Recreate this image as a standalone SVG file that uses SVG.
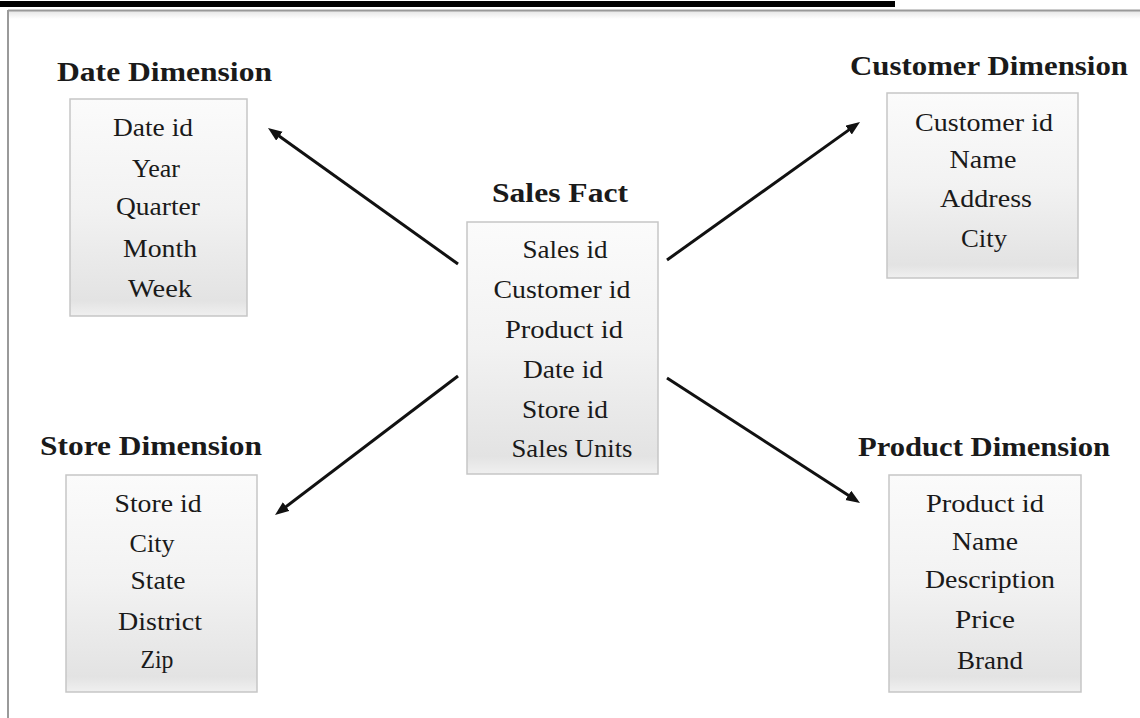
<svg xmlns="http://www.w3.org/2000/svg" width="1140" height="718" viewBox="0 0 1140 718">
<defs>
<linearGradient id="boxfill" x1="0" y1="0" x2="0" y2="1">
<stop offset="0" stop-color="#fbfbfb"/>
<stop offset="0.5" stop-color="#f2f2f2"/>
<stop offset="0.93" stop-color="#e3e3e3"/>
<stop offset="1" stop-color="#f0f0f0"/>
</linearGradient>
<linearGradient id="topshade" x1="0" y1="0" x2="0" y2="1">
<stop offset="0" stop-color="#e6e6e6"/>
<stop offset="1" stop-color="#ffffff"/>
</linearGradient>
<marker id="arrow" markerUnits="userSpaceOnUse" markerWidth="16" markerHeight="13" refX="6" refY="5.5" orient="auto">
<path d="M0,0 L14,5.5 L0,11 z" fill="#111"/>
</marker>
<style>
.box{fill:url(#boxfill);stroke:#c6c6c6;stroke-width:1.5}
.title{font-family:"Liberation Serif","Times New Roman",serif;font-weight:bold;font-size:28px;fill:#1a1a1a;text-anchor:middle}
.item{font-family:"Liberation Serif","Times New Roman",serif;font-size:26px;fill:#1a1a1a;text-anchor:middle}
.conn{stroke:#111;stroke-width:3;fill:none;marker-end:url(#arrow)}
</style>
</defs>
<rect x="0" y="0" width="1140" height="718" fill="#ffffff"/>
<rect x="0" y="1" width="895" height="6" fill="#000"/>
<g id="frame">
<rect x="8" y="11" width="1132" height="8" fill="url(#topshade)"/>
<line x1="8" y1="10.5" x2="1140" y2="10.5" stroke="#9a9a9a" stroke-width="2"/>
<line x1="8" y1="10" x2="8" y2="718" stroke="#9a9a9a" stroke-width="2"/>
</g>
<g id="connectors">
<line class="conn" x1="458" y1="264" x2="274.5" y2="132.7"/>
<line class="conn" x1="667" y1="260" x2="853.5" y2="126.6"/>
<line class="conn" x1="458" y1="376" x2="281.4" y2="510.2"/>
<line class="conn" x1="667" y1="378" x2="853.3" y2="498.6"/>
</g>
<g id="date-dimension">
<text class="title" x="164.5" y="81" textLength="215" lengthAdjust="spacingAndGlyphs">Date Dimension</text>
<rect class="box" x="70" y="99" width="177" height="217"/>
<text class="item" x="153" y="136" textLength="80" lengthAdjust="spacingAndGlyphs">Date id</text>
<text class="item" x="156" y="177" textLength="48" lengthAdjust="spacingAndGlyphs">Year</text>
<text class="item" x="158" y="215" textLength="84" lengthAdjust="spacingAndGlyphs">Quarter</text>
<text class="item" x="160" y="257" textLength="74" lengthAdjust="spacingAndGlyphs">Month</text>
<text class="item" x="160" y="297" textLength="64" lengthAdjust="spacingAndGlyphs">Week</text>
</g>
<g id="sales-fact">
<text class="title" x="560" y="202" textLength="136" lengthAdjust="spacingAndGlyphs">Sales Fact</text>
<rect class="box" x="467" y="222" width="191" height="252"/>
<text class="item" x="565" y="258" textLength="85" lengthAdjust="spacingAndGlyphs">Sales id</text>
<text class="item" x="562" y="298" textLength="137" lengthAdjust="spacingAndGlyphs">Customer id</text>
<text class="item" x="564" y="338" textLength="118" lengthAdjust="spacingAndGlyphs">Product id</text>
<text class="item" x="563" y="378" textLength="80" lengthAdjust="spacingAndGlyphs">Date id</text>
<text class="item" x="565" y="418" textLength="86" lengthAdjust="spacingAndGlyphs">Store id</text>
<text class="item" x="572" y="457" textLength="121" lengthAdjust="spacingAndGlyphs">Sales Units</text>
</g>
<g id="customer-dimension">
<text class="title" x="989" y="75" textLength="278" lengthAdjust="spacingAndGlyphs">Customer Dimension</text>
<rect class="box" x="887" y="93" width="191" height="185"/>
<text class="item" x="984" y="131" textLength="138" lengthAdjust="spacingAndGlyphs">Customer id</text>
<text class="item" x="983" y="168" textLength="67" lengthAdjust="spacingAndGlyphs">Name</text>
<text class="item" x="986" y="207" textLength="92" lengthAdjust="spacingAndGlyphs">Address</text>
<text class="item" x="984" y="247" textLength="46" lengthAdjust="spacingAndGlyphs">City</text>
</g>
<g id="store-dimension">
<text class="title" x="151" y="455" textLength="222" lengthAdjust="spacingAndGlyphs">Store Dimension</text>
<rect class="box" x="66" y="475" width="191" height="217"/>
<text class="item" x="158" y="512" textLength="87" lengthAdjust="spacingAndGlyphs">Store id</text>
<text class="item" x="152" y="552" textLength="45" lengthAdjust="spacingAndGlyphs">City</text>
<text class="item" x="158" y="589" textLength="55" lengthAdjust="spacingAndGlyphs">State</text>
<text class="item" x="160" y="630" textLength="84" lengthAdjust="spacingAndGlyphs">District</text>
<text class="item" x="157" y="668" textLength="33" lengthAdjust="spacingAndGlyphs">Zip</text>
</g>
<g id="product-dimension">
<text class="title" x="984" y="456" textLength="252" lengthAdjust="spacingAndGlyphs">Product Dimension</text>
<rect class="box" x="889" y="475" width="192" height="217"/>
<text class="item" x="985" y="512" textLength="118" lengthAdjust="spacingAndGlyphs">Product id</text>
<text class="item" x="985" y="550" textLength="66" lengthAdjust="spacingAndGlyphs">Name</text>
<text class="item" x="990" y="588" textLength="130" lengthAdjust="spacingAndGlyphs">Description</text>
<text class="item" x="985" y="628" textLength="60" lengthAdjust="spacingAndGlyphs">Price</text>
<text class="item" x="990" y="669" textLength="66" lengthAdjust="spacingAndGlyphs">Brand</text>
</g>
</svg>
